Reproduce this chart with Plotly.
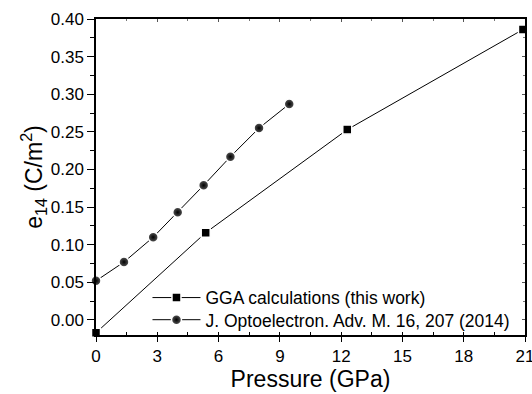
import plotly.graph_objects as go

# GGA calculations (this work)
gga_p = [0.0, 5.37, 12.3, 20.9]
gga_e = [-0.017, 0.116, 0.253, 0.386]

# J. Optoelectron. Adv. M. 16, 207 (2014)
ref_p = [0.0, 1.37, 2.8, 4.0, 5.27, 6.58, 7.98, 9.46]
ref_e = [0.052, 0.077, 0.110, 0.143, 0.179, 0.217, 0.255, 0.287]

x_ticks = [0, 3, 6, 9, 12, 15, 18, 21]
y_ticks = [0.00, 0.05, 0.10, 0.15, 0.20, 0.25, 0.30, 0.35, 0.40]

font = "Liberation Sans, Arial, sans-serif"

fig = go.Figure()
fig.add_trace(go.Scatter(
    x=gga_p, y=gga_e, mode="lines+markers",
    name="GGA calculations (this work)",
    line=dict(color="black", width=1),
    marker=dict(symbol="square", size=9, color="black",
                line=dict(width=1.5, color="white")),
    cliponaxis=False, legend="legend",
))
fig.add_trace(go.Scatter(
    x=ref_p, y=ref_e, mode="lines+markers",
    name="J. Optoelectron. Adv. M. 16, 207 (2014)",
    line=dict(color="black", width=1),
    marker=dict(symbol="circle", size=10, color="#5a5a5a",
                gradient=dict(type="radial", color="black"),
                line=dict(width=1.5, color="white")),
    cliponaxis=False, legend="legend2",
))

leg_common = dict(xanchor="left", yanchor="top", bgcolor="rgba(0,0,0,0)",
                  font=dict(size=17.5), itemwidth=48)

fig.update_layout(
    width=532, height=394,
    margin=dict(l=96, r=7, t=19, b=59, autoexpand=False),
    paper_bgcolor="white", plot_bgcolor="white",
    font=dict(family=font, size=17, color="black"),
    showlegend=True,
    legend=dict(x=0.12, y=0.175, **leg_common),
    legend2=dict(x=0.12, y=0.105, **leg_common),
    xaxis=dict(
        range=[0, 21], tickvals=x_ticks, ticktext=[str(v) for v in x_ticks],
        showline=True, linecolor="black", linewidth=1.5, mirror=False,
        ticks="outside", ticklen=5, tickwidth=1, tickcolor="black",
        minor=dict(dtick=1.5, ticks="inside", ticklen=3, tickcolor="black", tickwidth=1),
        showgrid=False, zeroline=False, ticklabeloverflow="allow", automargin=False,
        title=dict(text="Pressure (GPa)", font=dict(size=23), standoff=4),
        tickfont=dict(size=17),
    ),
    yaxis=dict(
        range=[-0.02, 0.40], tickvals=y_ticks, ticktext=[f"{v:.2f}" for v in y_ticks],
        showline=True, linecolor="black", linewidth=1.5, mirror=False,
        ticks="outside", ticklen=7, tickwidth=1, tickcolor="black",
        minor=dict(dtick=0.025, tick0=0, ticks="outside", ticklen=4, tickcolor="black", tickwidth=1),
        showgrid=False, zeroline=False, ticklabeloverflow="allow", automargin=False,
        title=dict(text="e<sub>14</sub> (C/m<sup>2</sup>)", font=dict(size=23), standoff=2),
        tickfont=dict(size=17),
    ),
    xaxis2=dict(
        range=[0, 21], overlaying="x", side="top", tickvals=x_ticks,
        showticklabels=False, showline=True, linecolor="black", linewidth=1.5,
        ticks="inside", ticklen=3, tickcolor="#555", tickwidth=1,
        minor=dict(dtick=1.5, ticks="inside", ticklen=2, tickcolor="#777"),
        showgrid=False, zeroline=False, automargin=False,
    ),
    yaxis2=dict(
        range=[-0.02, 0.40], overlaying="y", side="right", tickvals=y_ticks,
        showticklabels=False, showline=True, linecolor="black", linewidth=1.5,
        ticks="inside", ticklen=3, tickcolor="#555", tickwidth=1,
        minor=dict(dtick=0.025, tick0=0, ticks="inside", ticklen=2, tickcolor="#777"),
        showgrid=False, zeroline=False, automargin=False,
    ),
)
# invisible trace to activate the mirror axes
fig.add_trace(go.Scatter(x=[None], y=[None], xaxis="x2", yaxis="y2",
                         showlegend=False, hoverinfo="skip"))

fig.write_html("out.html")
